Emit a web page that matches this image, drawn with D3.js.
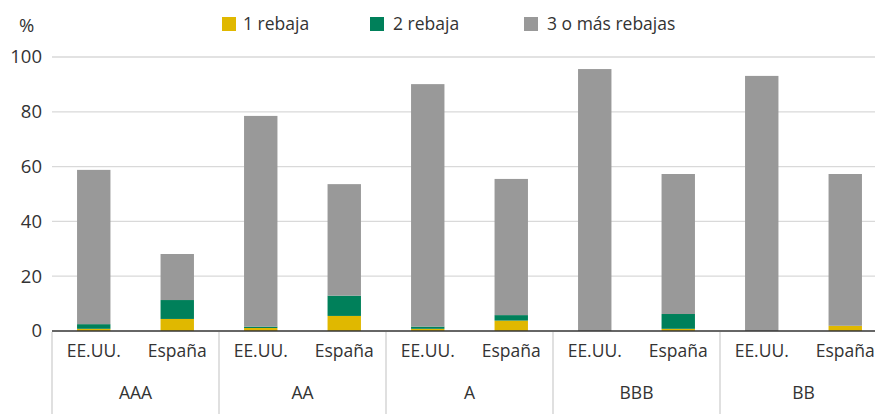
<!DOCTYPE html>
<html>
<head>
<meta charset="utf-8">
<script src="https://cdn.jsdelivr.net/npm/d3@7"></script>
<style>
  body { margin: 0; background: #fff; }
  svg { display: block; font-family: "Open Sans", sans-serif; }
</style>
</head>
<body>
<svg id="chart" width="875" height="414"></svg>
<script>
// ratings and countries
const ratings = ["AAA", "AA", "A", "BBB", "BB"];
const countries = ["EE.UU.", "España"];
const seriesNames = ["1 rebaja", "2 rebaja", "3 o más rebajas"];

// values per rating, order EE.UU., España
const oneCut   = [[0.8, 4.4], [1.1, 5.5], [0.8, 3.8], [0.0, 0.8], [0.0, 1.9]];
const twoCuts  = [[1.7, 6.9], [0.5, 7.4], [0.8, 2.0], [0.0, 5.4], [0.0, 0.0]];
const threeUp  = [[56.3, 16.8], [76.9, 40.7], [88.5, 49.7], [95.6, 51.1], [93.1, 55.4]];

const yTicks = [0, 20, 40, 60, 80, 100];
const colors = ["#e0b800", "#00805a", "#999999"];

const svg = d3.select("#chart");
const plotLeft = 52, plotRight = 887, plotTop = 57, plotBottom = 331;

const x0 = d3.scaleBand().domain(ratings).range([plotLeft, plotRight]);
const x1 = d3.scaleBand().domain(countries).range([0, x0.bandwidth()])
  .paddingInner(0.6).paddingOuter(0.3);
const y = d3.scaleLinear().domain([0, 100]).range([plotBottom, plotTop]);

// build flat rows for the stack
const rows = [];
ratings.forEach((r, i) => {
  countries.forEach((c, j) => {
    rows.push({rating: r, country: c, s0: oneCut[i][j], s1: twoCuts[i][j], s2: threeUp[i][j]});
  });
});
const stack = d3.stack().keys(["s0", "s1", "s2"]);
const layers = stack(rows);

// gridlines
svg.append("g")
  .selectAll("line")
  .data(yTicks.filter(d => d > 0))
  .enter().append("line")
  .attr("x1", plotLeft).attr("x2", 875)
  .attr("y1", d => y(d)).attr("y2", d => y(d))
  .attr("stroke", "#d9d9d9")
  .attr("stroke-width", 1.3);

// y axis labels
svg.append("g")
  .selectAll("text")
  .data(yTicks)
  .enter().append("text")
  .attr("x", 42)
  .attr("y", d => y(d))
  .attr("dy", "0.35em")
  .attr("text-anchor", "end")
  .attr("font-size", 18.5)
  .attr("fill", "#333")
  .text(d => d);

svg.append("text")
  .attr("x", 19).attr("y", 32)
  .attr("font-size", 18.5)
  .attr("fill", "#333")
  .text("%");

// bars
svg.append("g")
  .selectAll("g")
  .data(layers)
  .enter().append("g")
  .attr("fill", (d, i) => colors[i])
  .selectAll("rect")
  .data(d => d)
  .enter().append("rect")
  .attr("x", d => x0(d.data.rating) + x1(d.data.country))
  .attr("width", x1.bandwidth())
  .attr("y", d => y(d[1]))
  .attr("height", d => y(d[0]) - y(d[1]));

// zero line
svg.append("line")
  .attr("x1", plotLeft).attr("x2", 875)
  .attr("y1", y(0)).attr("y2", y(0))
  .attr("stroke", "#333")
  .attr("stroke-width", 1.5);

// group separators
const seps = ratings.map(r => x0(r)).concat([plotRight]);
svg.append("g")
  .selectAll("line")
  .data(seps)
  .enter().append("line")
  .attr("x1", d => d).attr("x2", d => d)
  .attr("y1", y(0) + 1).attr("y2", 414)
  .attr("stroke", "#cfcfcf")
  .attr("stroke-width", 1.3);

// country labels
svg.append("g")
  .selectAll("text")
  .data(rows)
  .enter().append("text")
  .attr("x", d => x0(d.rating) + x1(d.country) + x1.bandwidth() / 2)
  .attr("y", 357)
  .attr("text-anchor", "middle")
  .attr("font-size", 17.5)
  .attr("fill", "#333")
  .text(d => d.country);

// rating labels
svg.append("g")
  .selectAll("text")
  .data(ratings)
  .enter().append("text")
  .attr("x", d => x0(d) + x0.bandwidth() / 2)
  .attr("y", 399)
  .attr("text-anchor", "middle")
  .attr("font-size", 17.5)
  .attr("fill", "#333")
  .text(d => d);

// legend
const legendX = [222, 370, 524];
const legend = svg.append("g")
  .selectAll("g")
  .data(seriesNames)
  .enter().append("g")
  .attr("transform", (d, i) => `translate(${legendX[i]},17)`);
legend.append("rect")
  .attr("width", 14).attr("height", 14)
  .attr("fill", (d, i) => colors[i]);
legend.append("text")
  .attr("x", (d, i) => i === 0 ? 21 : 23)
  .attr("y", 7)
  .attr("dy", "0.35em")
  .attr("font-size", 17.5)
  .attr("fill", "#333")
  .text(d => d);
</script>
</body>
</html>
